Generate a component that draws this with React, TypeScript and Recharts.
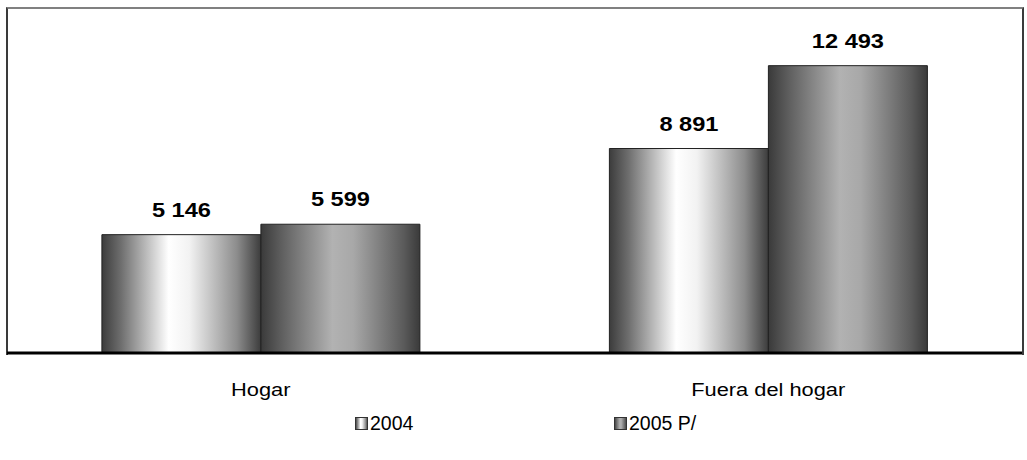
import React from "react";
import { BarChart, Bar, XAxis, YAxis, LabelList } from "recharts";

// Valores
const categories = ["Hogar", "Fuera del hogar"];
const values2004 = [5146, 8891];
const values2005 = [5599, 12493];
const seriesNames = ["2004", "2005 P/"];
const yDomain = [0, 15000];

const data = categories.map((name, i) => ({
  name,
  v2004: values2004[i],
  v2005: values2005[i],
}));

const FONT = "'Liberation Sans', Arial, sans-serif";
const STRETCH = 1.18; // texto del original va ensanchado horizontalmente

const fmt = (v: number) => v.toLocaleString("en-US").replace(/,/g, " ");

const ValueLabel = (props: any) => {
  const { x, y, width, value } = props;
  return (
    <g transform={`translate(${x + width / 2},${y - 18}) scale(${STRETCH},1)`}>
      <text x={0} y={0} textAnchor="middle" fontFamily={FONT} fontWeight="bold" fontSize={20} fill="#000">
        {fmt(value)}
      </text>
    </g>
  );
};

const CatTick = (props: any) => {
  const { x, y, payload } = props;
  return (
    <g transform={`translate(${x},${y + 35}) scale(${STRETCH},1)`}>
      <text x={0} y={0} textAnchor="middle" fontFamily={FONT} fontSize={18.5} fill="#000">
        {payload.value}
      </text>
    </g>
  );
};

const Grad = ({ id, light }: { id: string; light: boolean }) =>
  light ? (
    <linearGradient id={id} x1="0" x2="1" y1="0" y2="0">
      <stop offset="0" stopColor="#3c3c3c" />
      <stop offset="0.12" stopColor="#6e6e6e" />
      <stop offset="0.42" stopColor="#ffffff" />
      <stop offset="0.55" stopColor="#f2f2f2" />
      <stop offset="0.85" stopColor="#8c8c8c" />
      <stop offset="1" stopColor="#3c3c3c" />
    </linearGradient>
  ) : (
    <linearGradient id={id} x1="0" x2="1" y1="0" y2="0">
      <stop offset="0" stopColor="#3a3a3a" />
      <stop offset="0.12" stopColor="#5c5c5c" />
      <stop offset="0.45" stopColor="#b2b2b2" />
      <stop offset="0.58" stopColor="#a8a8a8" />
      <stop offset="0.9" stopColor="#5a5a5a" />
      <stop offset="1" stopColor="#3a3a3a" />
    </linearGradient>
  );

export default function App() {
  return (
    <div style={{ position: "absolute", left: 0, top: 0, width: 1027, height: 460, background: "#fff" }}>
      {/* marco del área de trazado */}
      <div
        style={{
          position: "absolute", left: 6, top: 7, width: 1014, height: 346,
          borderTop: "2px solid #808080", borderLeft: "2px solid #3a3a3a", borderRight: "2px solid #3a3a3a",
        }}
      />
      <div style={{ position: "absolute", left: 0, top: 0 }}>
        <BarChart
          width={1027}
          height={460}
          data={data}
          margin={{ top: 8, right: 5, left: 7, bottom: 47 }}
          barCategoryGap="18.7%"
          barGap={0}
        >
          <defs>
            <Grad id="g2004" light />
            <Grad id="g2005" light={false} />
          </defs>
          <YAxis hide domain={yDomain} />
          <XAxis
            dataKey="name"
            height={60}
            axisLine={{ stroke: "#000", strokeWidth: 3 }}
            tickLine={false}
            tick={<CatTick />}
            interval={0}
          />
          <Bar dataKey="v2004" name={seriesNames[0]} fill="url(#g2004)" stroke="#222" strokeWidth={1} isAnimationActive={false}>
            <LabelList dataKey="v2004" content={<ValueLabel />} />
          </Bar>
          <Bar dataKey="v2005" name={seriesNames[1]} fill="url(#g2005)" stroke="#222" strokeWidth={1} isAnimationActive={false}>
            <LabelList dataKey="v2005" content={<ValueLabel />} />
          </Bar>
        </BarChart>
      </div>
      {/* leyenda */}
      {seriesNames.map((s, i) => (
        <div
          key={s}
          style={{
            position: "absolute", left: i === 0 ? 355 : 614, top: 412,
            display: "flex", alignItems: "center", fontFamily: FONT, fontSize: 19.5, color: "#000",
          }}
        >
          <svg width={13} height={13} style={{ marginRight: 2 }}>
            <defs>
              <Grad id={`lg${i}`} light={i === 0} />
            </defs>
            <rect x={0.5} y={0.5} width={12} height={12} fill={`url(#lg${i})`} stroke="#333" />
          </svg>
          <span>{s}</span>
        </div>
      ))}
    </div>
  );
}
